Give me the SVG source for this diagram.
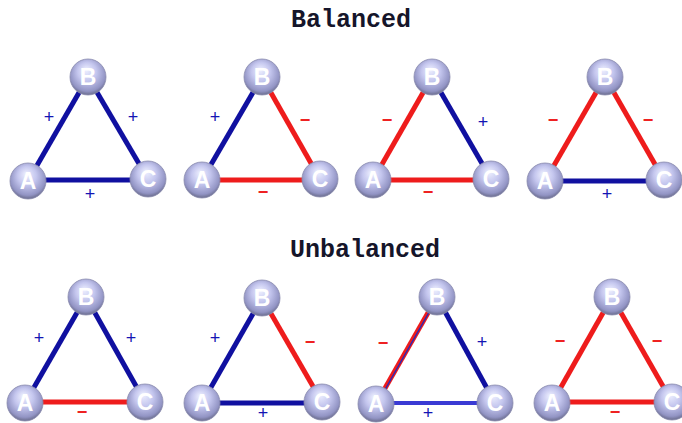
<svg xmlns="http://www.w3.org/2000/svg" width="682" height="423" viewBox="0 0 682 423">
<defs>
<radialGradient id="sph" cx="50%" cy="42%" r="58%" fx="45%" fy="30%">
<stop offset="0" stop-color="#eef0ff"/>
<stop offset="0.45" stop-color="#c4c6ee"/>
<stop offset="0.85" stop-color="#9294c4"/>
<stop offset="1" stop-color="#6a6c8c"/>
</radialGradient>
</defs>
<style>
.title{font-family:"Liberation Mono",monospace;font-weight:bold;font-size:25px;fill:#15152a;text-anchor:middle}
.pos{stroke:#1010a0;stroke-width:5;fill:none}
.neg{stroke:#ee1c1c;stroke-width:5;fill:none}
.pos2{stroke:#3a3ad4;stroke-width:4;fill:none}
.thin{stroke:#2a2ab8;stroke-width:1.5;fill:none}
.node circle{fill:url(#sph);stroke:#8a8cae;stroke-width:0.8}
.node text{font-family:"Liberation Sans",Arial,sans-serif;font-weight:bold;font-size:23px;fill:#ffffff;text-anchor:middle}
.sp{font-family:"Liberation Sans",Arial,sans-serif;font-size:18px;fill:#1414b4;text-anchor:middle}
.sn{font-family:"Liberation Sans",Arial,sans-serif;font-size:18px;font-weight:bold;fill:#ee2222;text-anchor:middle}
</style>
<rect width="682" height="423" fill="#ffffff"/>
<text class="title" x="351" y="27">Balanced</text>
<text class="title" x="365" y="257">Unbalanced</text>

<g id="connectors">
<line class="pos" x1="28" y1="181" x2="88" y2="77"/>
<line class="pos" x1="88" y1="77" x2="148" y2="179"/>
<line class="pos" x1="28" y1="180" x2="148" y2="180"/>
<line class="pos" x1="202" y1="180" x2="262" y2="77"/>
<line class="neg" x1="262" y1="77" x2="320" y2="179"/>
<line class="neg" x1="202" y1="180" x2="320" y2="180"/>
<line class="neg" x1="373" y1="180" x2="432" y2="77"/>
<line class="pos" x1="432" y1="77" x2="491" y2="179"/>
<line class="neg" x1="373" y1="180" x2="491" y2="180"/>
<line class="neg" x1="545" y1="181" x2="605" y2="77"/>
<line class="neg" x1="605" y1="77" x2="664" y2="180"/>
<line class="pos" x1="545" y1="181" x2="664" y2="181"/>
<line class="pos" x1="25" y1="403" x2="86" y2="297"/>
<line class="pos" x1="86" y1="297" x2="145" y2="402"/>
<line class="neg" x1="25" y1="402" x2="145" y2="402"/>
<line class="pos" x1="202" y1="403" x2="262" y2="298"/>
<line class="neg" x1="262" y1="298" x2="322" y2="402"/>
<line class="pos" x1="202" y1="403" x2="322" y2="403"/>
<line class="neg" x1="376" y1="404" x2="437" y2="297"/>
<line class="thin" x1="378" y1="402" x2="436" y2="300"/>
<line class="pos" x1="437" y1="297" x2="495" y2="403"/>
<line class="pos2" x1="376" y1="403" x2="495" y2="403"/>
<line class="neg" x1="552" y1="403" x2="612" y2="297"/>
<line class="neg" x1="612" y1="297" x2="672" y2="402"/>
<line class="neg" x1="552" y1="402" x2="672" y2="402"/>
</g>

<g id="signs">
<text class="sp" x="49" y="123">+</text>
<text class="sp" x="133" y="123">+</text>
<text class="sp" x="90" y="200">+</text>
<text class="sp" x="215" y="123">+</text>
<text class="sn" x="305" y="126">−</text>
<text class="sn" x="263" y="198">−</text>
<text class="sn" x="387" y="126">−</text>
<text class="sp" x="483" y="128">+</text>
<text class="sn" x="428" y="198">−</text>
<text class="sn" x="553" y="126">−</text>
<text class="sn" x="648" y="126">−</text>
<text class="sp" x="607" y="200">+</text>
<text class="sp" x="39" y="344">+</text>
<text class="sp" x="131" y="344">+</text>
<text class="sn" x="82" y="418">−</text>
<text class="sp" x="215" y="344">+</text>
<text class="sn" x="310" y="348">−</text>
<text class="sp" x="263" y="419">+</text>
<text class="sn" x="383" y="349">−</text>
<text class="sp" x="482" y="348">+</text>
<text class="sp" x="428" y="419">+</text>
<text class="sn" x="560" y="347">−</text>
<text class="sn" x="657" y="347">−</text>
<text class="sn" x="615" y="418">−</text>
</g>

<g id="t1-A" class="node"><circle cx="28" cy="181" r="18"/><text x="28" y="189">A</text></g>
<g id="t1-B" class="node"><circle cx="88" cy="77" r="18"/><text x="88" y="85">B</text></g>
<g id="t1-C" class="node"><circle cx="148" cy="179" r="18"/><text x="148" y="187">C</text></g>
<g id="t2-A" class="node"><circle cx="202" cy="180" r="18"/><text x="202" y="188">A</text></g>
<g id="t2-B" class="node"><circle cx="262" cy="77" r="18"/><text x="262" y="85">B</text></g>
<g id="t2-C" class="node"><circle cx="320" cy="179" r="18"/><text x="320" y="187">C</text></g>
<g id="t3-A" class="node"><circle cx="373" cy="180" r="18"/><text x="373" y="188">A</text></g>
<g id="t3-B" class="node"><circle cx="432" cy="77" r="18"/><text x="432" y="85">B</text></g>
<g id="t3-C" class="node"><circle cx="491" cy="179" r="18"/><text x="491" y="187">C</text></g>
<g id="t4-A" class="node"><circle cx="545" cy="181" r="18"/><text x="545" y="189">A</text></g>
<g id="t4-B" class="node"><circle cx="605" cy="77" r="18"/><text x="605" y="85">B</text></g>
<g id="t4-C" class="node"><circle cx="664" cy="180" r="18"/><text x="664" y="188">C</text></g>
<g id="t5-A" class="node"><circle cx="25" cy="403" r="18"/><text x="25" y="411">A</text></g>
<g id="t5-B" class="node"><circle cx="86" cy="297" r="18"/><text x="86" y="305">B</text></g>
<g id="t5-C" class="node"><circle cx="145" cy="402" r="18"/><text x="145" y="410">C</text></g>
<g id="t6-A" class="node"><circle cx="202" cy="403" r="18"/><text x="202" y="411">A</text></g>
<g id="t6-B" class="node"><circle cx="262" cy="298" r="18"/><text x="262" y="306">B</text></g>
<g id="t6-C" class="node"><circle cx="322" cy="402" r="18"/><text x="322" y="410">C</text></g>
<g id="t7-A" class="node"><circle cx="376" cy="404" r="18"/><text x="376" y="412">A</text></g>
<g id="t7-B" class="node"><circle cx="437" cy="297" r="18"/><text x="437" y="305">B</text></g>
<g id="t7-C" class="node"><circle cx="495" cy="403" r="18"/><text x="495" y="411">C</text></g>
<g id="t8-A" class="node"><circle cx="552" cy="403" r="18"/><text x="552" y="411">A</text></g>
<g id="t8-B" class="node"><circle cx="612" cy="297" r="18"/><text x="612" y="305">B</text></g>
<g id="t8-C" class="node"><circle cx="672" cy="402" r="18"/><text x="672" y="410">C</text></g>
</svg>
